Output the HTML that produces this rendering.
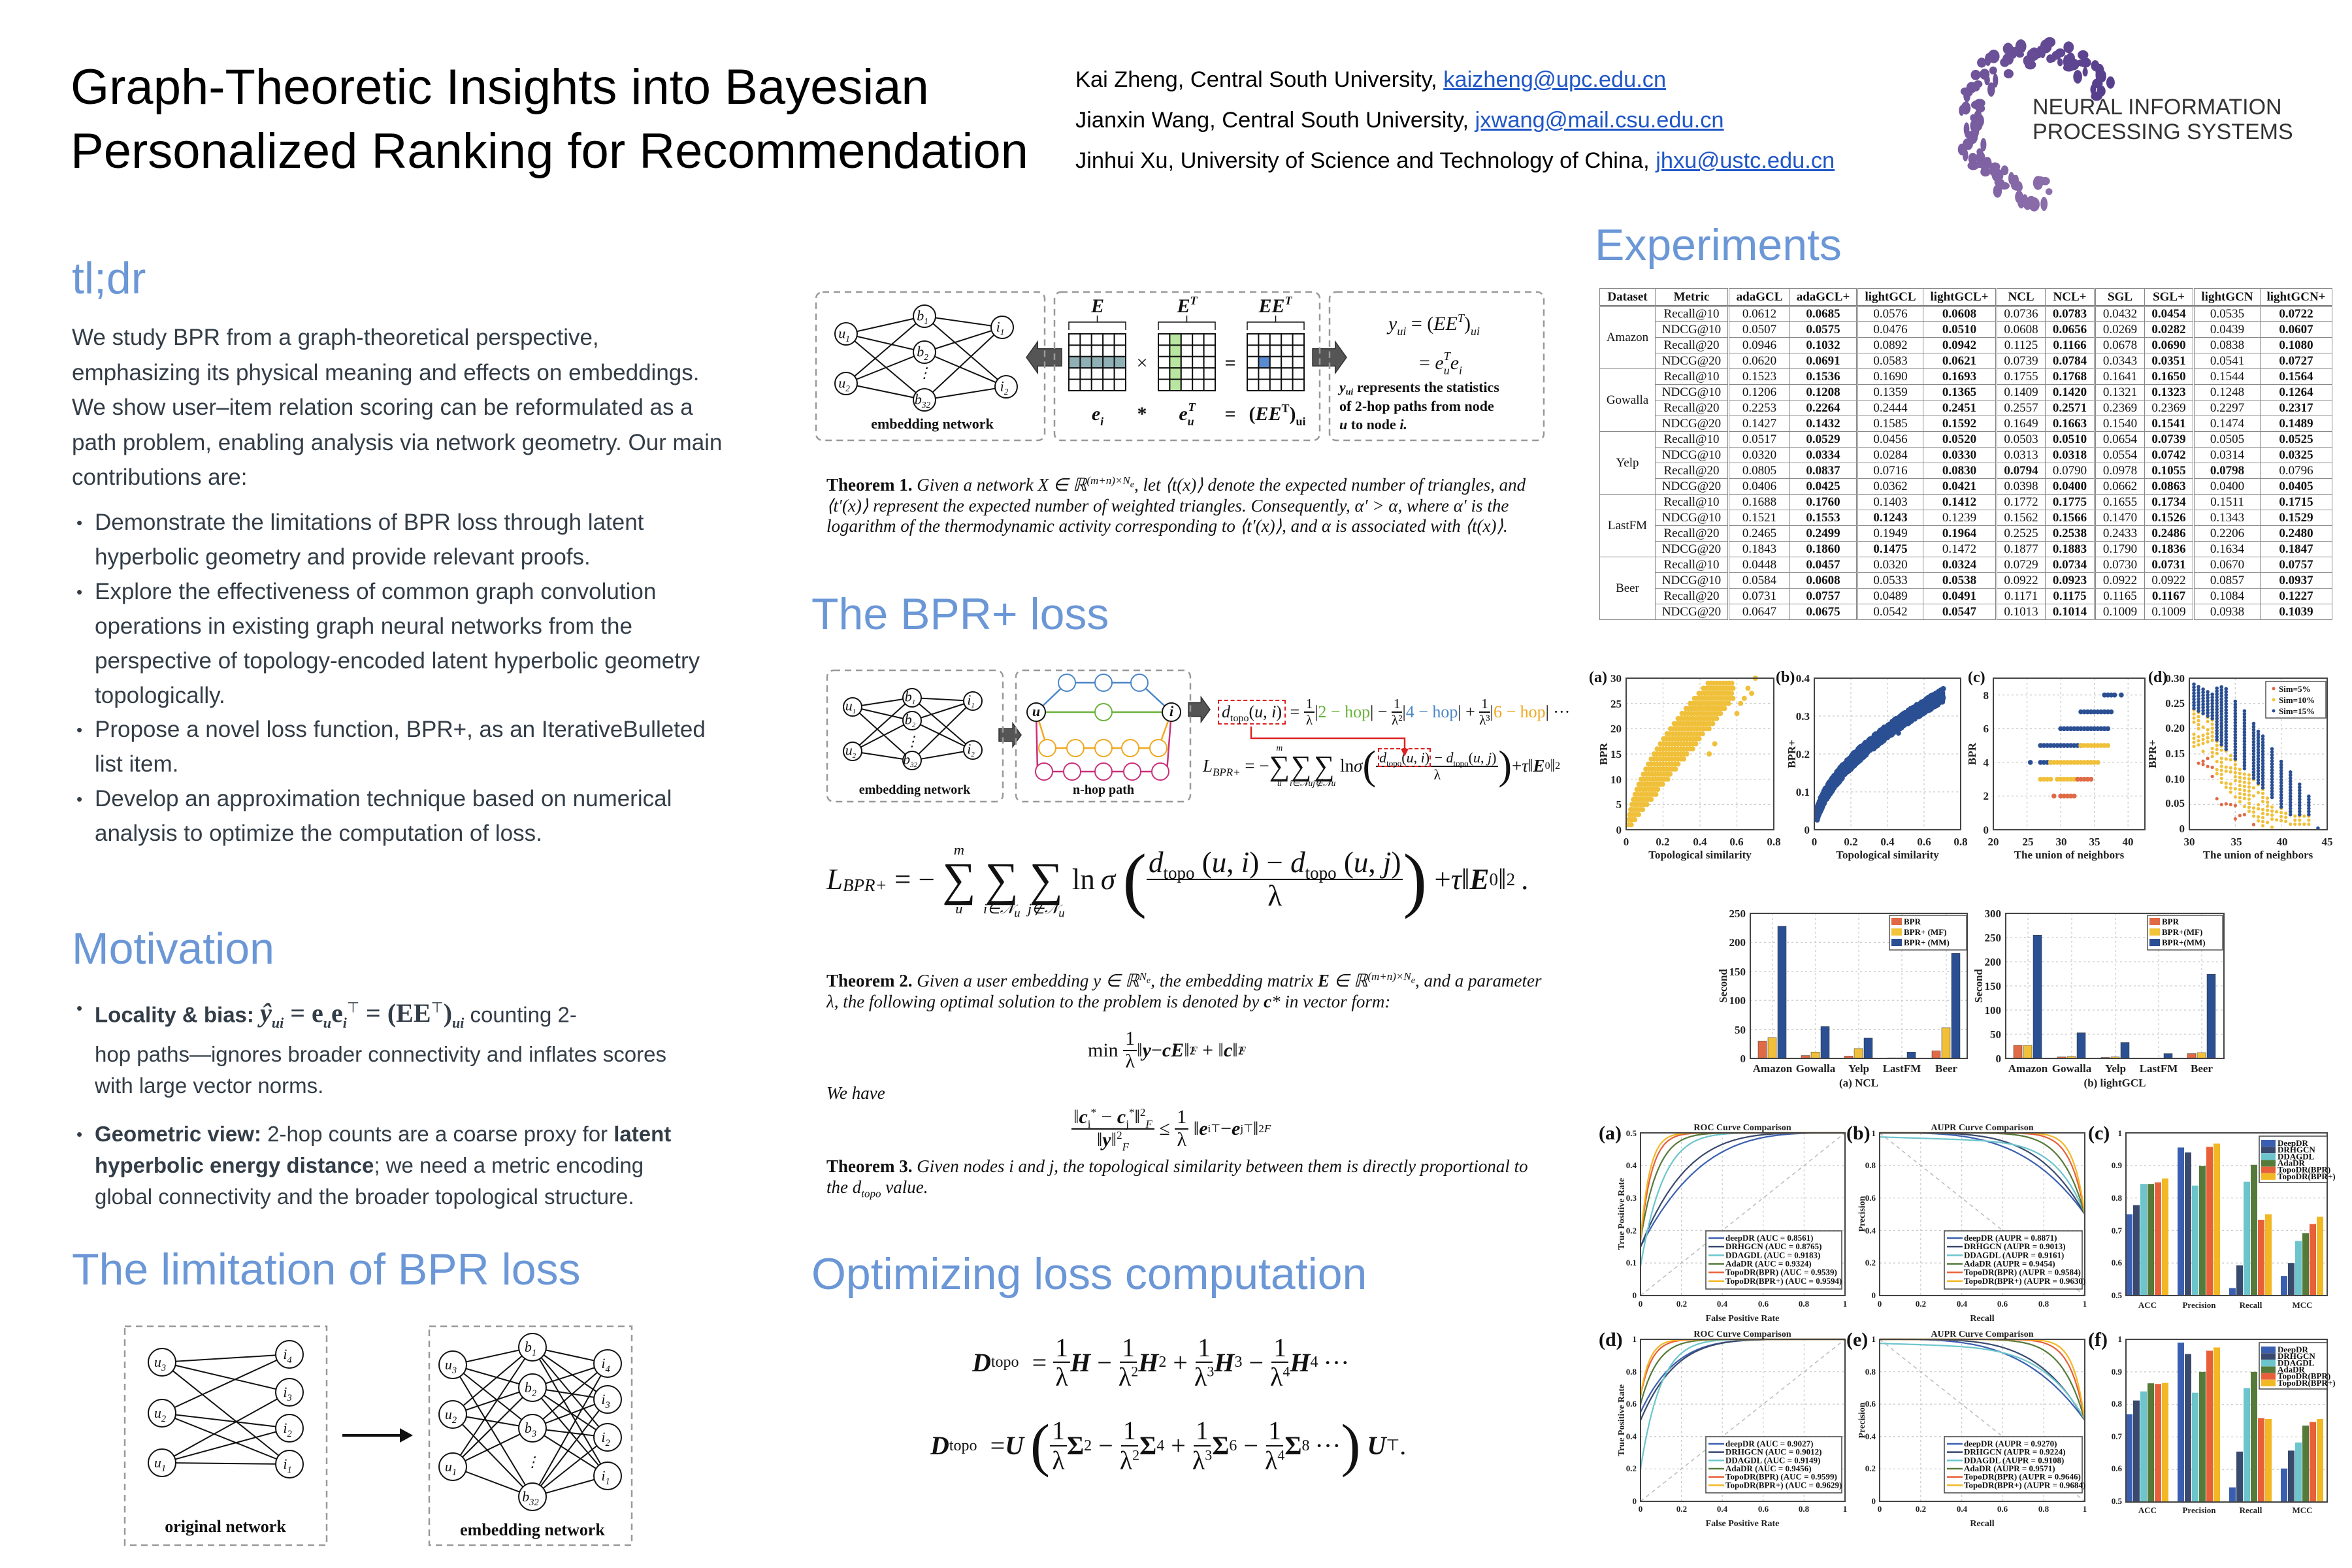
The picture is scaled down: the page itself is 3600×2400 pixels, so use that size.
<!DOCTYPE html>
<html><head><meta charset="utf-8">
<style>
*{margin:0;padding:0;box-sizing:border-box}
body{width:3600px;height:2400px;background:#fff;position:relative;overflow:hidden;font-family:"Liberation Sans",sans-serif;color:#333d47}
.a{position:absolute;white-space:nowrap}
.h{position:absolute;color:#6b97d6;font-size:68px;line-height:1;white-space:nowrap}
.tx{position:absolute;font-size:35px;line-height:53.6px;white-space:nowrap}
.bl{position:absolute;font-size:35px;line-height:52.9px;white-space:nowrap}
.bl div,.mo div{position:relative;padding-left:0}
.dot{position:absolute;left:-28px;top:0;font-size:26px}
.mo{position:absolute;font-size:33px;line-height:48px;white-space:nowrap}
.au{position:absolute;font-size:34.4px;color:#000;white-space:nowrap;line-height:1}
.au a{color:#1f56c6;text-decoration:underline}
.se{font-family:"Liberation Serif",serif}
.th{position:absolute;font-family:"Liberation Serif",serif;font-size:27px;line-height:31.5px;white-space:nowrap;color:#111}
.th i{font-style:italic}
.fr{display:inline-flex;flex-direction:column;align-items:center;vertical-align:middle;line-height:1.08}
.fr>span:first-child{border-bottom:2px solid #111;padding:0 3px}
.sm{display:inline-flex;flex-direction:column;align-items:center;vertical-align:middle;line-height:0.95}
.sm small{font-size:0.5em;font-style:italic}
.m{position:absolute;font-family:"Liberation Serif",serif;color:#111;white-space:nowrap;display:flex;align-items:center}
.m sup,.m sub{line-height:0}
table{border-collapse:collapse;font-family:"Liberation Serif",serif;font-size:19px;color:#111;table-layout:fixed}
td{border:1px solid #888;text-align:center;height:24px;padding:0;line-height:22px}
tr.hd td{height:27px;font-weight:bold;border-bottom:3px double #777}
td.d{border-left:3px double #888}
svg{position:absolute;left:0;top:0}
.t{font-family:"Liberation Serif",serif;font-weight:bold;font-size:17px;fill:#222}
.s{font-family:"Liberation Serif",serif;font-weight:bold;font-size:13px;fill:#111}
.n{font-family:"Liberation Serif",serif;font-style:italic;font-size:22px;fill:#111;text-anchor:middle}
</style></head><body>

<div class="a" style="left:108px;top:96px;font-size:76px;color:#000;line-height:1">Graph-Theoretic Insights into Bayesian</div>
<div class="a" style="left:108px;top:194px;font-size:76px;color:#000;line-height:1">Personalized Ranking for Recommendation</div>

<div class="au" style="left:1646px;top:105px">Kai Zheng, Central South University, <a>kaizheng@upc.edu.cn</a></div>
<div class="au" style="left:1646px;top:167px">Jianxin Wang, Central South University, <a>jxwang@mail.csu.edu.cn</a></div>
<div class="au" style="left:1646px;top:229px">Jinhui Xu, University of Science and Technology of China, <a>jhxu@ustc.edu.cn</a></div>
<div class="a" style="left:3111px;top:145px;font-size:34px;color:#333;line-height:38px">NEURAL INFORMATION<br>PROCESSING SYSTEMS</div>

<div class="h" style="left:110px;top:392px">tl;dr</div>
<div class="tx" style="left:110px;top:490px">We study BPR from a graph-theoretical perspective,<br>emphasizing its physical meaning and effects on embeddings.<br>We show user–item relation scoring can be reformulated as a<br>path problem, enabling analysis via network geometry. Our main<br>contributions are:</div>
<div class="bl" style="left:145px;top:774px">
<div><span class="dot">•</span>Demonstrate the limitations of BPR loss through latent</div><div>hyperbolic geometry and provide relevant proofs.</div>
<div><span class="dot">•</span>Explore the effectiveness of common graph convolution</div><div>operations in existing graph neural networks from the</div><div>perspective of topology-encoded latent hyperbolic geometry</div><div>topologically.</div>
<div><span class="dot">•</span>Propose a novel loss function, BPR+, as an IterativeBulleted</div><div>list item.</div>
<div><span class="dot">•</span>Develop an approximation technique based on numerical</div><div>analysis to optimize the computation of loss.</div>
</div>

<div class="h" style="left:110px;top:1418px">Motivation</div>
<div class="mo" style="left:145px;top:1519px">
<div><span class="dot">•</span><b>Locality &amp; bias:</b> <span class="se" style="font-size:40px;font-weight:bold"><i>ŷ<sub style="font-size:22px">ui</sub></i> = e<sub style="font-size:22px"><i>u</i></sub>e<sub style="font-size:22px"><i>i</i></sub><sup style="font-size:22px;font-weight:normal">⊤</sup> = (EE<sup style="font-size:22px;font-weight:normal">⊤</sup>)<sub style="font-size:22px"><i>ui</i></sub></span> counting 2-</div>
<div>hop paths—ignores broader connectivity and inflates scores</div><div>with large vector norms.</div>
</div>
<div class="mo" style="left:145px;top:1712px">
<div><span class="dot">•</span><b>Geometric view:</b> 2-hop counts are a coarse proxy for <b>latent</b></div>
<div><b>hyperbolic energy distance</b>; we need a metric encoding</div><div>global connectivity and the broader topological structure.</div>
</div>

<div class="h" style="left:110px;top:1909px">The limitation of BPR loss</div>
<div class="h" style="left:1242px;top:906px">The BPR+ loss</div>
<div class="h" style="left:1242px;top:1916px">Optimizing loss computation</div>
<div class="h" style="left:2441px;top:341px">Experiments</div>

<div class="th" style="left:1265px;top:720px;width:1075px;white-space:normal"><b>Theorem 1.</b> <i>Given a network X ∈ ℝ<sup style="font-size:17px">(m+n)×N<sub>e</sub></sup>, let ⟨t(x)⟩ denote the expected number of triangles, and ⟨t′(x)⟩ represent the expected number of weighted triangles. Consequently, α′ &gt; α, where α′ is the logarithm of the thermodynamic activity corresponding to ⟨t′(x)⟩, and α is associated with ⟨t(x)⟩.</i></div>

<div class="m" style="left:1265px;top:1276px;height:140px;font-size:45px">
<i>L</i><sub style="font-size:27px;font-style:italic;margin-top:18px">BPR+</sub>&nbsp;= −&nbsp;<span class="sm"><small>m</small><span style="font-size:72px">∑</span><small>u</small></span>&nbsp;<span class="sm"><small>&nbsp;</small><span style="font-size:72px">∑</span><small>i∈𝒩<sub>u</sub></small></span>&nbsp;<span class="sm"><small>&nbsp;</small><span style="font-size:72px">∑</span><small>j∉𝒩<sub>u</sub></small></span>&nbsp;ln&thinsp;<i>σ</i>&nbsp;<span style="font-size:110px;font-weight:lighter">(</span><span class="fr"><span><i>d</i><sub style="font-size:27px">topo</sub> (<i>u</i>, <i>i</i>) − <i>d</i><sub style="font-size:27px">topo</sub> (<i>u</i>, <i>j</i>)</span><span>λ</span></span><span style="font-size:110px;font-weight:lighter">)</span>&nbsp;+ <i>τ</i> ‖<b><i>E</i></b><sup style="font-size:27px">0</sup>‖<sup style="font-size:27px">2</sup>&thinsp;.
</div>

<div class="th" style="left:1265px;top:1479px;width:1110px;white-space:normal"><b>Theorem 2.</b> <i>Given a user embedding y ∈ ℝ<sup style="font-size:17px">N<sub>e</sub></sup>, the embedding matrix <b>E</b> ∈ ℝ<sup style="font-size:17px">(m+n)×N<sub>e</sub></sup>, and a parameter λ, the following optimal solution to the problem is denoted by <b>c</b>* in vector form:</i></div>
<div class="m" style="left:1665px;top:1570px;height:75px;font-size:30px">min&nbsp;<span class="fr"><span>1</span><span>λ</span></span>‖<b><i>y</i></b> − <b><i>cE</i></b>‖<sup style="font-size:18px">2</sup><sub style="font-size:18px;margin-left:-8px"><i>F</i></sub>&nbsp;+ ‖<b><i>c</i></b>‖<sup style="font-size:18px">2</sup><sub style="font-size:18px;margin-left:-8px"><i>F</i></sub></div>
<div class="th" style="left:1265px;top:1658px"><i>We have</i></div>
<div class="m" style="left:1640px;top:1685px;height:85px;font-size:30px"><span class="fr"><span>‖<b><i>c</i></b><sub style="font-size:17px">i</sub><sup style="font-size:17px">*</sup> − <b><i>c</i></b><sub style="font-size:17px">j</sub><sup style="font-size:17px">*</sup>‖<sup style="font-size:17px">2</sup><sub style="font-size:17px"><i>F</i></sub></span><span>‖<b><i>y</i></b>‖<sup style="font-size:17px">2</sup><sub style="font-size:17px"><i>F</i></sub></span></span>&nbsp;≤&nbsp;<span class="fr"><span>1</span><span>λ</span></span>&nbsp;‖<b><i>e</i></b><sub style="font-size:17px">i</sub><sup style="font-size:17px">⊤</sup> − <b><i>e</i></b><sub style="font-size:17px">j</sub><sup style="font-size:17px">⊤</sup>‖<sup style="font-size:17px">2</sup><sub style="font-size:17px"><i>F</i></sub></div>
<div class="th" style="left:1265px;top:1770px;width:1110px;white-space:normal"><b>Theorem 3.</b> <i>Given nodes i and j, the topological similarity between them is directly proportional to the d<sub style="font-size:17px">topo</sub> value.</i></div>

<div class="m" style="left:1488px;top:2040px;height:90px;font-size:40px"><b><i>D</i></b><sub style="font-size:24px">topo</sub>&nbsp; =&nbsp;<span class="fr"><span>1</span><span>λ</span></span><b><i>H</i></b>&nbsp;−&nbsp;<span class="fr"><span>1</span><span>λ<sup style="font-size:22px">2</sup></span></span><b><i>H</i></b><sup style="font-size:24px">2</sup>&nbsp;+&nbsp;<span class="fr"><span>1</span><span>λ<sup style="font-size:22px">3</sup></span></span><b><i>H</i></b><sup style="font-size:24px">3</sup>&nbsp;−&nbsp;<span class="fr"><span>1</span><span>λ<sup style="font-size:22px">4</sup></span></span><b><i>H</i></b><sup style="font-size:24px">4</sup>&thinsp;···</div>
<div class="m" style="left:1424px;top:2160px;height:105px;font-size:40px"><b><i>D</i></b><sub style="font-size:24px">topo</sub>&nbsp; = <b><i>U</i></b>&nbsp;<span style="font-size:90px;font-weight:lighter">(</span><span class="fr"><span>1</span><span>λ</span></span><b>Σ</b><sup style="font-size:24px">2</sup>&nbsp;−&nbsp;<span class="fr"><span>1</span><span>λ<sup style="font-size:22px">2</sup></span></span><b>Σ</b><sup style="font-size:24px">4</sup>&nbsp;+&nbsp;<span class="fr"><span>1</span><span>λ<sup style="font-size:22px">3</sup></span></span><b>Σ</b><sup style="font-size:24px">6</sup>&nbsp;−&nbsp;<span class="fr"><span>1</span><span>λ<sup style="font-size:22px">4</sup></span></span><b>Σ</b><sup style="font-size:24px">8</sup>&thinsp;···<span style="font-size:90px;font-weight:lighter">)</span>&nbsp;<b><i>U</i></b><sup style="font-size:24px">⊤</sup>.</div>

<div class="m" style="left:1864px;top:1058px;height:64px;font-size:26px"><span style="border:2px dashed #d22;padding:2px 4px"><i>d</i><sub style="font-size:16px">topo</sub>(<i>u</i>, <i>i</i>)</span>&nbsp;=&nbsp;<span class="fr" style="font-size:21px"><span>1</span><span>λ</span></span>|<span style="color:#6ab23a">2 − hop</span>| −&nbsp;<span class="fr" style="font-size:21px"><span>1</span><span>λ²</span></span>|<span style="color:#4a86c8">4 − hop</span>| +&nbsp;<span class="fr" style="font-size:21px"><span>1</span><span>λ³</span></span>|<span style="color:#f0a820">6 − hop</span>| ···</div>
<div class="m" style="left:1841px;top:1130px;height:85px;font-size:27px"><i>L<sub style="font-size:17px">BPR+</sub></i>&nbsp;= −<span class="sm"><small>m</small><span style="font-size:44px">∑</span><small>u</small></span><span class="sm"><small>&nbsp;</small><span style="font-size:44px">∑</span><small>i∈𝒩u</small></span><span class="sm"><small>&nbsp;</small><span style="font-size:44px">∑</span><small>j∉𝒩u</small></span>&nbsp;ln <i>σ</i><span style="font-size:62px;font-weight:lighter">(</span><span class="fr" style="font-size:22px"><span><span style="border:2px dashed #d22"><i>d</i><sub style="font-size:13px">topo</sub>(<i>u</i>, <i>i</i>)</span> − <i>d</i><sub style="font-size:13px">topo</sub>(<i>u</i>, <i>j</i>)</span><span>λ</span></span><span style="font-size:62px;font-weight:lighter">)</span>+ <i>τ</i> ‖<b><i>E</i></b><sup style="font-size:16px">0</sup>‖<sup style="font-size:16px">2</sup></div>

<table style="position:absolute;left:2448px;top:441px;width:1121px">
<colgroup><col style="width:85px"><col style="width:112px"><col style="width:94px"><col style="width:103px"><col style="width:101px"><col style="width:112px"><col style="width:75px"><col style="width:76px"><col style="width:76px"><col style="width:75px"><col style="width:102px"><col style="width:110px"></colgroup>
<tr class="hd"><td>Dataset</td><td>Metric</td><td class="d">adaGCL</td><td>adaGCL+</td><td class="d">lightGCL</td><td>lightGCL+</td><td class="d">NCL</td><td>NCL+</td><td class="d">SGL</td><td>SGL+</td><td class="d">lightGCN</td><td>lightGCN+</td></tr>
<tr><td rowspan="4">Amazon</td><td>Recall@10</td><td class="d">0.0612</td><td><b>0.0685</b></td><td class="d">0.0576</td><td><b>0.0608</b></td><td class="d">0.0736</td><td><b>0.0783</b></td><td class="d">0.0432</td><td><b>0.0454</b></td><td class="d">0.0535</td><td><b>0.0722</b></td></tr>
<tr><td>NDCG@10</td><td class="d">0.0507</td><td><b>0.0575</b></td><td class="d">0.0476</td><td><b>0.0510</b></td><td class="d">0.0608</td><td><b>0.0656</b></td><td class="d">0.0269</td><td><b>0.0282</b></td><td class="d">0.0439</td><td><b>0.0607</b></td></tr>
<tr><td>Recall@20</td><td class="d">0.0946</td><td><b>0.1032</b></td><td class="d">0.0892</td><td><b>0.0942</b></td><td class="d">0.1125</td><td><b>0.1166</b></td><td class="d">0.0678</td><td><b>0.0690</b></td><td class="d">0.0838</td><td><b>0.1080</b></td></tr>
<tr><td>NDCG@20</td><td class="d">0.0620</td><td><b>0.0691</b></td><td class="d">0.0583</td><td><b>0.0621</b></td><td class="d">0.0739</td><td><b>0.0784</b></td><td class="d">0.0343</td><td><b>0.0351</b></td><td class="d">0.0541</td><td><b>0.0727</b></td></tr>
<tr><td rowspan="4">Gowalla</td><td>Recall@10</td><td class="d">0.1523</td><td><b>0.1536</b></td><td class="d">0.1690</td><td><b>0.1693</b></td><td class="d">0.1755</td><td><b>0.1768</b></td><td class="d">0.1641</td><td><b>0.1650</b></td><td class="d">0.1544</td><td><b>0.1564</b></td></tr>
<tr><td>NDCG@10</td><td class="d">0.1206</td><td><b>0.1208</b></td><td class="d">0.1359</td><td><b>0.1365</b></td><td class="d">0.1409</td><td><b>0.1420</b></td><td class="d">0.1321</td><td><b>0.1323</b></td><td class="d">0.1248</td><td><b>0.1264</b></td></tr>
<tr><td>Recall@20</td><td class="d">0.2253</td><td><b>0.2264</b></td><td class="d">0.2444</td><td><b>0.2451</b></td><td class="d">0.2557</td><td><b>0.2571</b></td><td class="d">0.2369</td><td>0.2369</td><td class="d">0.2297</td><td><b>0.2317</b></td></tr>
<tr><td>NDCG@20</td><td class="d">0.1427</td><td><b>0.1432</b></td><td class="d">0.1585</td><td><b>0.1592</b></td><td class="d">0.1649</td><td><b>0.1663</b></td><td class="d">0.1540</td><td><b>0.1541</b></td><td class="d">0.1474</td><td><b>0.1489</b></td></tr>
<tr><td rowspan="4">Yelp</td><td>Recall@10</td><td class="d">0.0517</td><td><b>0.0529</b></td><td class="d">0.0456</td><td><b>0.0520</b></td><td class="d">0.0503</td><td><b>0.0510</b></td><td class="d">0.0654</td><td><b>0.0739</b></td><td class="d">0.0505</td><td><b>0.0525</b></td></tr>
<tr><td>NDCG@10</td><td class="d">0.0320</td><td><b>0.0334</b></td><td class="d">0.0284</td><td><b>0.0330</b></td><td class="d">0.0313</td><td><b>0.0318</b></td><td class="d">0.0554</td><td><b>0.0742</b></td><td class="d">0.0314</td><td><b>0.0325</b></td></tr>
<tr><td>Recall@20</td><td class="d">0.0805</td><td><b>0.0837</b></td><td class="d">0.0716</td><td><b>0.0830</b></td><td class="d"><b>0.0794</b></td><td>0.0790</td><td class="d">0.0978</td><td><b>0.1055</b></td><td class="d"><b>0.0798</b></td><td>0.0796</td></tr>
<tr><td>NDCG@20</td><td class="d">0.0406</td><td><b>0.0425</b></td><td class="d">0.0362</td><td><b>0.0421</b></td><td class="d">0.0398</td><td><b>0.0400</b></td><td class="d">0.0662</td><td><b>0.0863</b></td><td class="d">0.0400</td><td><b>0.0405</b></td></tr>
<tr><td rowspan="4">LastFM</td><td>Recall@10</td><td class="d">0.1688</td><td><b>0.1760</b></td><td class="d">0.1403</td><td><b>0.1412</b></td><td class="d">0.1772</td><td><b>0.1775</b></td><td class="d">0.1655</td><td><b>0.1734</b></td><td class="d">0.1511</td><td><b>0.1715</b></td></tr>
<tr><td>NDCG@10</td><td class="d">0.1521</td><td><b>0.1553</b></td><td class="d"><b>0.1243</b></td><td>0.1239</td><td class="d">0.1562</td><td><b>0.1566</b></td><td class="d">0.1470</td><td><b>0.1526</b></td><td class="d">0.1343</td><td><b>0.1529</b></td></tr>
<tr><td>Recall@20</td><td class="d">0.2465</td><td><b>0.2499</b></td><td class="d">0.1949</td><td><b>0.1964</b></td><td class="d">0.2525</td><td><b>0.2538</b></td><td class="d">0.2433</td><td><b>0.2486</b></td><td class="d">0.2206</td><td><b>0.2480</b></td></tr>
<tr><td>NDCG@20</td><td class="d">0.1843</td><td><b>0.1860</b></td><td class="d"><b>0.1475</b></td><td>0.1472</td><td class="d">0.1877</td><td><b>0.1883</b></td><td class="d">0.1790</td><td><b>0.1836</b></td><td class="d">0.1634</td><td><b>0.1847</b></td></tr>
<tr><td rowspan="4">Beer</td><td>Recall@10</td><td class="d">0.0448</td><td><b>0.0457</b></td><td class="d">0.0320</td><td><b>0.0324</b></td><td class="d">0.0729</td><td><b>0.0734</b></td><td class="d">0.0730</td><td><b>0.0731</b></td><td class="d">0.0670</td><td><b>0.0757</b></td></tr>
<tr><td>NDCG@10</td><td class="d">0.0584</td><td><b>0.0608</b></td><td class="d">0.0533</td><td><b>0.0538</b></td><td class="d">0.0922</td><td><b>0.0923</b></td><td class="d">0.0922</td><td>0.0922</td><td class="d">0.0857</td><td><b>0.0937</b></td></tr>
<tr><td>Recall@20</td><td class="d">0.0731</td><td><b>0.0757</b></td><td class="d">0.0489</td><td><b>0.0491</b></td><td class="d">0.1171</td><td><b>0.1175</b></td><td class="d">0.1165</td><td><b>0.1167</b></td><td class="d">0.1084</td><td><b>0.1227</b></td></tr>
<tr><td>NDCG@20</td><td class="d">0.0647</td><td><b>0.0675</b></td><td class="d">0.0542</td><td><b>0.0547</b></td><td class="d">0.1013</td><td><b>0.1014</b></td><td class="d">0.1009</td><td>0.1009</td><td class="d">0.0938</td><td><b>0.1039</b></td></tr>
</table>

<svg id="gfx" width="3600" height="2400" xmlns="http://www.w3.org/2000/svg"></svg>

<svg id="txt" width="3600" height="2400" xmlns="http://www.w3.org/2000/svg">
<g fill="none" stroke="#999" stroke-width="2.5" stroke-dasharray="10 7">
<rect x="1249" y="447" width="350" height="227" rx="10"/>
<rect x="1614" y="447" width="406" height="227" rx="10"/>
<rect x="2035" y="447" width="328" height="227" rx="10"/>
<rect x="1266" y="1026" width="269" height="201" rx="10"/>
<rect x="1555" y="1026" width="267" height="201" rx="10"/>
<rect x="191" y="2030" width="309" height="335"/>
<rect x="657" y="2030" width="310" height="335"/>
</g>
<g font-family="Liberation Serif" font-weight="bold" font-style="italic" font-size="30" text-anchor="middle" fill="#111">
<text x="1680" y="478">E</text><text x="1817" y="478">E<tspan font-size="18" dy="-12">T</tspan></text><text x="1952" y="478">EE<tspan font-size="18" dy="-12">T</tspan></text>
<text x="1680" y="643">e<tspan font-size="18" dy="8">i</tspan></text><text x="1748" y="643" font-style="normal">*</text><text x="1817" y="643">e<tspan font-size="18" dy="8">u</tspan><tspan font-size="18" dx="-9" dy="-22">T</tspan></text><text x="1883" y="643" font-style="normal">=</text><text x="1955" y="643" font-style="normal">(<tspan font-style="italic">EE</tspan><tspan font-size="18" dy="-12">T</tspan><tspan dy="12">)</tspan><tspan font-size="18" dy="8">ui</tspan></text>
<text x="1748" y="565" font-style="normal" font-weight="normal">×</text><text x="1883" y="565" font-style="normal">=</text>
<text x="2195" y="505" font-weight="normal">y<tspan font-size="18" dy="8">ui</tspan><tspan dy="-8" font-style="normal"> = (</tspan>EE<tspan font-size="18" dy="-12">T</tspan><tspan dy="12" font-style="normal">)</tspan><tspan font-size="18" dy="8">ui</tspan></text>
<text x="2205" y="565" font-weight="normal"><tspan font-style="normal">= </tspan>e<tspan font-size="18" dy="8">u</tspan><tspan font-size="18" dx="-9" dy="-22">T</tspan><tspan dy="14">e</tspan><tspan font-size="18" dy="8">i</tspan></text>
</g>
<g font-family="Liberation Serif" font-weight="bold" font-size="22" fill="#111">
<text x="2050" y="600"><tspan font-style="italic">y<tspan font-size="14" dy="4">ui</tspan></tspan><tspan dy="-4"> represents the statistics</tspan></text>
<text x="2050" y="629">of 2-hop paths from node</text>
<text x="2050" y="657"><tspan font-style="italic">u</tspan> to node <tspan font-style="italic">i.</tspan></text>
<text x="1427" y="656" text-anchor="middle">embedding network</text>
<text x="1400" y="1215" text-anchor="middle" font-size="20">embedding network</text>
<text x="1689" y="1215" text-anchor="middle" font-size="20">n-hop path</text>
<text x="345" y="2345" text-anchor="middle" font-size="26">original network</text>
<text x="815" y="2350" text-anchor="middle" font-size="26">embedding network</text>
</g>

<g class="t" text-anchor="middle">
<text class="t" x="2489" y="1294">0</text><text class="t" x="2545" y="1294">0.2</text><text class="t" x="2602" y="1294">0.4</text><text class="t" x="2658" y="1294">0.6</text><text class="t" x="2715" y="1294">0.8</text>
<text class="t" x="2777" y="1294">0</text><text class="t" x="2833" y="1294">0.2</text><text class="t" x="2889" y="1294">0.4</text><text class="t" x="2945" y="1294">0.6</text><text class="t" x="3001" y="1294">0.8</text>
<text class="t" x="3051" y="1294">20</text><text class="t" x="3104" y="1294">25</text><text class="t" x="3155" y="1294">30</text><text class="t" x="3206" y="1294">35</text><text class="t" x="3257" y="1294">40</text>
<text class="t" x="3351" y="1294">30</text><text class="t" x="3423" y="1294">35</text><text class="t" x="3493" y="1294">40</text><text class="t" x="3562" y="1294">45</text>
<text class="t" x="2602" y="1314">Topological similarity</text><text class="t" x="2889" y="1314">Topological similarity</text>
<text class="t" x="3167" y="1314">The union of neighbors</text><text class="t" x="3456" y="1314">The union of neighbors</text>
</g>
<g text-anchor="end">
<text class="t" x="2482" y="1276" text-anchor="end">0</text><text class="t" x="2482" y="1237" text-anchor="end">5</text><text class="t" x="2482" y="1199" text-anchor="end">10</text><text class="t" x="2482" y="1160" text-anchor="end">15</text><text class="t" x="2482" y="1121" text-anchor="end">20</text><text class="t" x="2482" y="1083" text-anchor="end">25</text><text class="t" x="2482" y="1044" text-anchor="end">30</text>
<text class="t" x="2770" y="1276" text-anchor="end">0</text><text class="t" x="2770" y="1218" text-anchor="end">0.1</text><text class="t" x="2770" y="1160" text-anchor="end">0.2</text><text class="t" x="2770" y="1102" text-anchor="end">0.3</text><text class="t" x="2770" y="1044" text-anchor="end">0.4</text>
<text class="t" x="3044" y="1276" text-anchor="end">0</text><text class="t" x="3044" y="1224" text-anchor="end">2</text><text class="t" x="3044" y="1173" text-anchor="end">4</text><text class="t" x="3044" y="1121" text-anchor="end">6</text><text class="t" x="3044" y="1070" text-anchor="end">8</text>
<text class="t" x="3344" y="1274" text-anchor="end">0</text><text class="t" x="3344" y="1235" text-anchor="end">0.05</text><text class="t" x="3344" y="1198" text-anchor="end">0.10</text><text class="t" x="3344" y="1159" text-anchor="end">0.15</text><text class="t" x="3344" y="1120" text-anchor="end">0.20</text><text class="t" x="3344" y="1082" text-anchor="end">0.25</text><text class="t" x="3344" y="1044" text-anchor="end">0.30</text>
</g>
<text class="t" transform="translate(2460,1154) rotate(-90)" text-anchor="middle">BPR</text>
<text class="t" transform="translate(2748,1154) rotate(-90)" text-anchor="middle">BPR+</text>
<text class="t" transform="translate(3024,1154) rotate(-90)" text-anchor="middle">BPR</text>
<text class="t" transform="translate(3300,1154) rotate(-90)" text-anchor="middle">BPR+</text>
<g font-family="Liberation Serif" font-weight="bold" font-size="24" fill="#111">
<text x="2432" y="1044">(a)</text><text x="2718" y="1044">(b)</text><text x="3012" y="1044">(c)</text><text x="3288" y="1044">(d)</text>
</g>
<rect x="3468" y="1043" width="92" height="56" fill="#fff" stroke="#555" stroke-width="1.5"/>
<circle cx="3480" cy="1054" r="2.5" fill="#e06a45"/><circle cx="3480" cy="1071" r="2.5" fill="#f2c43a"/><circle cx="3480" cy="1088" r="2.5" fill="#2b4f93"/>
<text class="s" x="3488" y="1059">Sim=5%</text><text class="s" x="3488" y="1076">Sim=10%</text><text class="s" x="3488" y="1093">Sim=15%</text>

<g text-anchor="end">
<text class="t" x="2672" y="1626" text-anchor="end">0</text><text class="t" x="2672" y="1582" text-anchor="end">50</text><text class="t" x="2672" y="1537" text-anchor="end">100</text><text class="t" x="2672" y="1493" text-anchor="end">150</text><text class="t" x="2672" y="1448" text-anchor="end">200</text><text class="t" x="2672" y="1404" text-anchor="end">250</text>
<text class="t" x="3063" y="1626" text-anchor="end">0</text><text class="t" x="3063" y="1589" text-anchor="end">50</text><text class="t" x="3063" y="1552" text-anchor="end">100</text><text class="t" x="3063" y="1515" text-anchor="end">150</text><text class="t" x="3063" y="1478" text-anchor="end">200</text><text class="t" x="3063" y="1441" text-anchor="end">250</text><text class="t" x="3063" y="1404" text-anchor="end">300</text>
</g>
<g text-anchor="middle">
<text class="t" x="2713" y="1641" text-anchor="middle">Amazon</text><text class="t" x="2779" y="1641" text-anchor="middle">Gowalla</text><text class="t" x="2845" y="1641" text-anchor="middle">Yelp</text><text class="t" x="2911" y="1641" text-anchor="middle">LastFM</text><text class="t" x="2979" y="1641" text-anchor="middle">Beer</text>
<text class="t" x="3104" y="1641" text-anchor="middle">Amazon</text><text class="t" x="3171" y="1641" text-anchor="middle">Gowalla</text><text class="t" x="3238" y="1641" text-anchor="middle">Yelp</text><text class="t" x="3304" y="1641" text-anchor="middle">LastFM</text><text class="t" x="3370" y="1641" text-anchor="middle">Beer</text>
<text class="t" x="2845" y="1663" text-anchor="middle">(a) NCL</text><text class="t" x="3237" y="1663" text-anchor="middle">(b) lightGCL</text>
</g>
<text class="t" transform="translate(2643,1509) rotate(-90)" text-anchor="middle">Second</text>
<text class="t" transform="translate(3034,1509) rotate(-90)" text-anchor="middle">Second</text>
<rect x="2892" y="1401" width="118" height="53" fill="#fff" stroke="#555" stroke-width="1.5"/>
<rect x="2895" y="1405" width="16" height="11" fill="#e06a45"/><rect x="2895" y="1421" width="16" height="11" fill="#f2c43a"/><rect x="2895" y="1437" width="16" height="11" fill="#2b4f93"/>
<text class="s" x="2914" y="1415">BPR</text><text class="s" x="2914" y="1431">BPR+ (MF)</text><text class="s" x="2914" y="1447">BPR+ (MM)</text>
<rect x="3287" y="1401" width="115" height="53" fill="#fff" stroke="#555" stroke-width="1.5"/>
<rect x="3290" y="1405" width="16" height="11" fill="#e06a45"/><rect x="3290" y="1421" width="16" height="11" fill="#f2c43a"/><rect x="3290" y="1437" width="16" height="11" fill="#2b4f93"/>
<text class="s" x="3309" y="1415">BPR</text><text class="s" x="3309" y="1431">BPR+(MF)</text><text class="s" x="3309" y="1447">BPR+(MM)</text>

<g font-family="Liberation Serif" font-weight="bold" font-size="14" fill="#222" text-anchor="middle">
<text x="2667" y="1730">ROC Curve Comparison</text><text x="3034" y="1730">AUPR Curve Comparison</text>
<text x="2667" y="2046">ROC Curve Comparison</text><text x="3034" y="2046">AUPR Curve Comparison</text>
<text x="2667" y="2022">False Positive Rate</text><text x="3034" y="2022">Recall</text>
<text x="2667" y="2336">False Positive Rate</text><text x="3034" y="2336">Recall</text>
<g font-size="13">
<text x="2511" y="2000">0</text><text x="2574" y="2000">0.2</text><text x="2636" y="2000">0.4</text><text x="2699" y="2000">0.6</text><text x="2761" y="2000">0.8</text><text x="2824" y="2000">1</text>
<text x="2877" y="2000">0</text><text x="2940" y="2000">0.2</text><text x="3003" y="2000">0.4</text><text x="3065" y="2000">0.6</text><text x="3128" y="2000">0.8</text><text x="3191" y="2000">1</text>
<text x="2511" y="2314">0</text><text x="2574" y="2314">0.2</text><text x="2636" y="2314">0.4</text><text x="2699" y="2314">0.6</text><text x="2761" y="2314">0.8</text><text x="2824" y="2314">1</text>
<text x="2877" y="2314">0</text><text x="2940" y="2314">0.2</text><text x="3003" y="2314">0.4</text><text x="3065" y="2314">0.6</text><text x="3128" y="2314">0.8</text><text x="3191" y="2314">1</text>
<text x="3287" y="2002">ACC</text><text x="3366" y="2002">Precision</text><text x="3445" y="2002">Recall</text><text x="3524" y="2002">MCC</text>
<text x="3287" y="2316">ACC</text><text x="3366" y="2316">Precision</text><text x="3445" y="2316">Recall</text><text x="3524" y="2316">MCC</text>
</g>
<g font-size="13" text-anchor="end">
<text x="2505" y="1987">0</text><text x="2505" y="1937">0.1</text><text x="2505" y="1888">0.2</text><text x="2505" y="1838">0.3</text><text x="2505" y="1788">0.4</text><text x="2505" y="1739">0.5</text>
<text x="2871" y="1987">0</text><text x="2871" y="1937">0.2</text><text x="2871" y="1888">0.4</text><text x="2871" y="1838">0.6</text><text x="2871" y="1788">0.8</text><text x="2871" y="1739">1</text>
<text x="3248" y="1987">0.5</text><text x="3248" y="1937">0.6</text><text x="3248" y="1888">0.7</text><text x="3248" y="1838">0.8</text><text x="3248" y="1788">0.9</text><text x="3248" y="1739">1</text>
<text x="2505" y="2302">0</text><text x="2505" y="2252">0.2</text><text x="2505" y="2203">0.4</text><text x="2505" y="2153">0.6</text><text x="2505" y="2104">0.8</text><text x="2505" y="2054">1</text>
<text x="2871" y="2302">0</text><text x="2871" y="2252">0.2</text><text x="2871" y="2203">0.4</text><text x="2871" y="2153">0.6</text><text x="2871" y="2104">0.8</text><text x="2871" y="2054">1</text>
<text x="3248" y="2302">0.5</text><text x="3248" y="2252">0.6</text><text x="3248" y="2203">0.7</text><text x="3248" y="2153">0.8</text><text x="3248" y="2104">0.9</text><text x="3248" y="2054">1</text>
</g>
</g>
<g font-family="Liberation Serif" font-weight="bold" font-size="14" fill="#222" text-anchor="middle">
<text transform="translate(2486,1858) rotate(-90)">True Positive Rate</text><text transform="translate(2854,1858) rotate(-90)">Precision</text>
<text transform="translate(2486,2174) rotate(-90)">True Positive Rate</text><text transform="translate(2854,2174) rotate(-90)">Precision</text>
</g>
<g font-family="Liberation Serif" font-weight="bold" font-size="30" fill="#111">
<text x="2447" y="1744">(a)</text><text x="2826" y="1744">(b)</text><text x="3196" y="1744">(c)</text>
<text x="2447" y="2060">(d)</text><text x="2826" y="2060">(e)</text><text x="3196" y="2060">(f)</text>
</g>
<g id="legs"></g>
</svg>

<script>
const NS='http://www.w3.org/2000/svg';
const G=document.getElementById('gfx'), T=document.getElementById('legs');
function E(t,a,p){const e=document.createElementNS(NS,t);for(const k in a)e.setAttribute(k,a[k]);(p||G).appendChild(e);return e;}
function ax(x,y,w,h,x0,x1,y0,y1){return {X:v=>x+(v-x0)/(x1-x0)*w,Y:v=>y+h-(v-y0)/(y1-y0)*h};}
let seed=7;function rnd(){seed=(seed*16807)%2147483647;return seed/2147483647;}
function grid(x,y,w,h,gx,gy){gx.forEach(p=>E('line',{x1:p,x2:p,y1:y,y2:y+h,stroke:'#ccc','stroke-width':1.3,'stroke-dasharray':'3 4'}));gy.forEach(p=>E('line',{x1:x,x2:x+w,y1:p,y2:p,stroke:'#ccc','stroke-width':1.3,'stroke-dasharray':'3 4'}));}
function frame(x,y,w,h){E('rect',{x:x,y:y,width:w,height:h,fill:'none',stroke:'#444','stroke-width':2});}
function dot(x,y,r,c){E('circle',{cx:x,cy:y,r:r,fill:c});}
const Y='#f0c03a',B='#2b4f93',O='#e06a45';

let A=ax(2489,1038,226,232,0,0.8,0,30);
grid(2489,1038,226,232,[0.2,0.4,0.6].map(A.X),[5,10,15,20,25].map(A.Y));
for(let k=1;k<=29;k++){let l=0.46*Math.pow(k/30,1.7)+0.01,r=Math.min(0.6,0.022*k+0.01);if(k>=27)r=0.58;if(r<l)r=l;for(let x=l;x<=r+1e-9;x+=0.016)dot(A.X(x),A.Y(k),4,Y);}
[[0.7,30],[0.66,28],[0.68,27],[0.62,25],[0.48,17],[0.45,15],[0.64,26],[0.6,23]].forEach(p=>dot(A.X(p[0]),A.Y(p[1]),4,Y));
frame(2489,1038,226,232);
A=ax(2777,1038,224,232,0,0.8,0,0.4);
grid(2777,1038,224,232,[0.2,0.4,0.6].map(A.X),[0.1,0.2,0.3].map(A.Y));
for(let i=0;i<1500;i++){let x=0.015+Math.pow(rnd(),1.4)*0.69;let y=0.43*Math.pow(x,0.55)+(rnd()-0.5)*0.035;dot(A.X(x),A.Y(y),4.2,B);}
dot(A.X(0.46),A.Y(0.255),4,B);
frame(2777,1038,224,232);
A=ax(3051,1038,232,232,20,42.5,0,9);
grid(3051,1038,232,232,[25,30,35,40].map(A.X),[2,4,6,8].map(A.Y));
[[2,29,29,O],[2,30,32,O],[3,27,28.5,Y],[3,29.5,32.5,Y],[3,32.5,34.5,O],[4,25.5,25.5,B],[4,27,28.5,B],[4,28.5,35.5,Y],[5,27,33,B],[5,33,37,Y],[6,30,37,B],[7,33,37.5,B],[8,36.5,38,B],[8,39,39,B]].forEach(r=>{for(let x=r[1];x<=r[2]+1e-9;x+=0.5)dot(A.X(x),A.Y(r[0]),3.8,r[3]);});
frame(3051,1038,232,232);
A=ax(3351,1038,211,232,30,45,0,0.30);
grid(3351,1038,211,232,[35,40].map(A.X),[0.05,0.1,0.15,0.2,0.25].map(A.Y));
for(let x=30.5;x<=43;x+=0.5){let top=Math.min(0.285,0.26-0.024*(x-35)),bot=Math.max(0.03,0.14-0.019*(x-35));
 if(x<33){top=0.285-0.01*(x-31);bot=top-0.05;}
 for(let y=bot-0.075;y<bot;y+=0.008)if(y>0.005&&rnd()<0.7)dot(A.X(x),A.Y(y),2.6,Y);
 for(let i=0;i<3;i++)if(rnd()<0.5){let y=bot-0.08-rnd()*0.04;if(y>0.01)dot(A.X(x),A.Y(y),2.6,O);}
 if(Math.round(x*2)%2===0||rnd()<0.5)for(let y=bot;y<=top;y+=0.006)dot(A.X(x),A.Y(y),2.8,B);}
dot(A.X(44),A.Y(0.003),2.8,B);
frame(3351,1038,211,232);

function bars(x,w,ymax,centers,vals){A=ax(x,1398,w,222,0,1,0,ymax);
 grid(x,1398,w,222,centers,[1,2,3,4,5].map(i=>A.Y(i*50)).filter(v=>v>1398));
 centers.forEach((c,i)=>{[O,Y,B].forEach((col,j)=>{let v=vals[i][j];E('rect',{x:c-22+j*15,y:A.Y(v),width:13,height:1620-A.Y(v),fill:col,stroke:'#333','stroke-width':0.5});});});
 frame(x,1398,w,222);}
bars(2679,332,250,[2713,2779,2845,2911,2979],[[30,36,228],[5,11,55],[4,17,35],[1,1,11],[13,53,181]]);
bars(3070,334,300,[3104,3171,3238,3304,3370],[[27,27,255],[3,4,53],[2,3,33],[0.4,0.4,10],[10,12,174]]);

const C=['#3b5fb0','#3a4a6e','#6cc5cc','#557a3a','#e8603a','#f2b824'];
function curvePanel(x,y,w,h,fns,diag,ymax){const P=ax(x,y,w,h,0,1,0,1);
 grid(x,y,w,h,[0.2,0.4,0.6,0.8].map(P.X),[0.2,0.4,0.6,0.8].map(P.Y));
 E('line',{x1:P.X(0),y1:P.Y(diag?0:1),x2:P.X(1),y2:P.Y(diag?1:0),stroke:'#bbb','stroke-width':1.5,'stroke-dasharray':'6 5'});
 fns.forEach((f,i)=>{let s='';for(let k=0;k<=200;k++){let t=k/200;t=Math.pow(t,1.6);let yv=f(t)/ymax;s+=(k?'L':'M')+P.X(t).toFixed(1)+','+P.Y(Math.min(1,yv)).toFixed(1);}E('path',{d:s,fill:'none',stroke:C[i],'stroke-width':2.2});});
 frame(x,y,w,h);}
function roc(s,k){return x=>s+(1-s)*(1-Math.pow(1-x,k));}
function pr(a,n,c){return x=>(c||1)-(c?0.04*x:0)-a*Math.pow(x,n);}
const rocA=[roc(0.3,3.5),roc(0.3,4.5),roc(0.18,9),roc(0.34,12),roc(0.34,18),roc(0.34,22)].map(f=>x=>0.5*f(x));
curvePanel(2511,1734,313,249,rocA,true,0.5);
curvePanel(2877,1734,314,249,[pr(0.5,3.5),pr(0.5,4.5),pr(0.43,7,0.975),pr(0.5,9),pr(0.5,14),pr(0.5,18)],false,1);
curvePanel(2511,2050,313,248,[roc(0.55,6),roc(0.5,6),roc(0.2,10),roc(0.6,12),roc(0.65,18),roc(0.65,22)],true,1);
curvePanel(2877,2050,314,248,[pr(0.5,3.5),pr(0.5,4.5),pr(0.43,5,0.975),pr(0.5,9),pr(0.5,14),pr(0.5,18)],false,1);
function gbar(y,vals){const P=ax(3254,y,308,249,0,1,0.5,1);
 grid(3254,y,308,249,[],[0.6,0.7,0.8,0.9].map(P.Y));
 [3287,3366,3445,3524].forEach((c,i)=>{vals[i].forEach((v,j)=>{E('rect',{x:c-33+j*11,y:P.Y(v),width:10,height:P.Y(0.5)-P.Y(v),fill:C[j]});});});
 frame(3254,y,308,249);}
gbar(1734,[[.75,.778,.843,.843,.848,.86],[.955,.94,.838,.898,.957,.967],[.523,.593,.85,.902,.733,.75],[.56,.6,.668,.692,.72,.742]]);
gbar(2050,[[.77,.812,.84,.865,.863,.866],[.99,.955,.836,.9,.965,.975],[.545,.655,.85,.9,.758,.755],[.603,.658,.683,.735,.746,.755]]);

function legBox(x,y,w,h,n,bar){E('rect',{x:x,y:y,width:w,height:h,fill:'#fff',stroke:'#444','stroke-width':1.5},T);for(let i=0;i<n;i++){let yy=y+8+i*(h-10)/n+3;if(bar)E('rect',{x:x+3,y:yy-5,width:22,height:10,fill:C[i]},T);else E('line',{x1:x+4,x2:x+28,y1:yy,y2:yy,stroke:C[i],'stroke-width':2.5},T);}}
legBox(2611,1884,208,89,6);legBox(2976,1884,211,89,6);legBox(2611,2199,208,86,6);legBox(2976,2199,211,86,6);
legBox(3458,1739,104,71,6,true);legBox(3458,2055,104,71,6,true);
const LT=[[2641,1884,89,['deepDR (AUC = 0.8561)','DRHGCN (AUC = 0.8765)','DDAGDL (AUC = 0.9183)','AdaDR (AUC = 0.9324)','TopoDR(BPR) (AUC = 0.9539)','TopoDR(BPR+) (AUC = 0.9594)']],
[3006,1884,89,['deepDR (AUPR = 0.8871)','DRHGCN (AUPR = 0.9013)','DDAGDL (AUPR = 0.9161)','AdaDR (AUPR = 0.9454)','TopoDR(BPR) (AUPR = 0.9584)','TopoDR(BPR+) (AUPR = 0.9630)']],
[2641,2199,86,['deepDR (AUC = 0.9027)','DRHGCN (AUC = 0.9012)','DDAGDL (AUC = 0.9149)','AdaDR (AUC = 0.9456)','TopoDR(BPR) (AUC = 0.9599)','TopoDR(BPR+) (AUC = 0.9629)']],
[3006,2199,86,['deepDR (AUPR = 0.9270)','DRHGCN (AUPR = 0.9224)','DDAGDL (AUPR = 0.9108)','AdaDR (AUPR = 0.9571)','TopoDR(BPR) (AUPR = 0.9646)','TopoDR(BPR+) (AUPR = 0.9684)']],
[3486,1739,71,['DeepDR','DRHGCN','DDAGDL','AdaDR','TopoDR(BPR)','TopoDR(BPR+)']],
[3486,2055,71,['DeepDR','DRHGCN','DDAGDL','AdaDR','TopoDR(BPR)','TopoDR(BPR+)']]];
LT.forEach(l=>l[3].forEach((s,i)=>{const e=E('text',{x:l[0],y:l[1]+8+i*(l[2]-10)/6+7,'class':'s','font-size':l[0]>3400?10:12},T);e.textContent=s;}));

function net(nodes,edges,r,fs){edges.forEach(e=>E('line',{x1:nodes[e[0]][0],y1:nodes[e[0]][1],x2:nodes[e[1]][0],y2:nodes[e[1]][1],stroke:'#111','stroke-width':2}));
 for(const k in nodes){const n=nodes[k];if(n[2]==='dots'){E('text',{x:n[0],y:n[1],'class':'n','font-size':fs*1.3}).textContent='⋮';continue;}E('circle',{cx:n[0],cy:n[1],r:r,fill:'#fff',stroke:'#111','stroke-width':2});const t=E('text',{x:n[0]-3,y:n[1]+fs*0.3,'class':'n','font-size':fs});t.textContent=n[2];if(n[3]){const s=E('tspan',{'font-size':fs*0.6,dy:fs*0.25},t);s.textContent=n[3];}}}
function full(us,bs,is){const e=[];us.forEach(u=>bs.forEach(b=>e.push([u,b])));bs.forEach(b=>is.forEach(i=>e.push([b,i])));return e;}
net({u1:[1295,511,'u','1'],u2:[1295,587,'u','2'],b1:[1415,484,'b','1'],b2:[1415,539,'b','2'],bd:[1415,578,'dots'],b32:[1415,612,'b','32'],i1:[1534,501,'i','1'],i2:[1540,592,'i','2']},full(['u1','u2'],['b1','b2','b32'],['i1','i2']),17,22);
net({u1:[1305,1082,'u','1'],u2:[1305,1150,'u','2'],b1:[1396,1068,'b','1'],b2:[1396,1103,'b','2'],bd:[1396,1142,'dots'],b32:[1396,1164,'b','32'],i1:[1489,1073,'i','1'],i2:[1489,1148,'i','2']},full(['u1','u2'],['b1','b2','b32'],['i1','i2']),14,18);
net({u3:[248,2085,'u','3'],u2:[248,2163,'u','2'],u1:[248,2239,'u','1'],i4:[443,2073,'i','4'],i3:[443,2131,'i','3'],i2:[443,2186,'i','2'],i1:[443,2241,'i','1']},[['u3','i4'],['u3','i3'],['u3','i1'],['u2','i4'],['u2','i2'],['u2','i1'],['u1','i3'],['u1','i2'],['u1','i1']],21,24);
net({u3:[693,2089,'u','3'],u2:[693,2165,'u','2'],u1:[693,2245,'u','1'],b1:[815,2062,'b','1'],b2:[815,2124,'b','2'],b3:[815,2186,'b','3'],bd:[815,2245,'dots'],b32:[815,2291,'b','32'],i4:[930,2087,'i','4'],i3:[930,2142,'i','3'],i2:[930,2200,'i','2'],i1:[930,2259,'i','1']},full(['u3','u2','u1'],['b1','b2','b3','b32'],['i4','i3','i2','i1']),21,24);
E('line',{x1:524,y1:2197,x2:618,y2:2197,stroke:'#111','stroke-width':4});E('polygon',{points:'632,2197 612,2186 612,2208',fill:'#111'});
function barrow(x1,x2,y,h,dir){const hh=h/2,head=h*0.6;let p;if(dir>0)p=[[x1,y-hh*0.55],[x2-head*0.6,y-hh*0.55],[x2-head*0.6,y-hh],[x2,y],[x2-head*0.6,y+hh],[x2-head*0.6,y+hh*0.55],[x1,y+hh*0.55]];else p=[[x2,y-hh*0.55],[x1+head*0.6,y-hh*0.55],[x1+head*0.6,y-hh],[x1,y],[x1+head*0.6,y+hh],[x1+head*0.6,y+hh*0.55],[x2,y+hh*0.55]];E('polygon',{points:p.map(q=>q.join(',')).join(' '),fill:'#555',stroke:'#333','stroke-width':1.5});}
barrow(1571,1625,547,48,-1);barrow(2009,2061,547,48,1);barrow(1529,1563,1125,36,1);barrow(1819,1852,1086,38,1);
function mat(x,y,hl){const cw=17.4,ch=17.4;for(let r=0;r<5;r++)for(let c=0;c<5;c++){let f='#fff';if(hl==='row'&&r===2)f='#8fb0b5';if(hl==='col'&&c===1)f='#b8e6a0';if(hl==='cell'&&r===2&&c===1)f='#5a8ad0';E('rect',{x:x+c*cw,y:y+r*ch,width:cw,height:ch,fill:f,stroke:'#111','stroke-width':2});}
 E('path',{d:`M${x},${y-6} v-12 h${cw*5} v12 M${x+cw*2.5},${y-18} v-10`,fill:'none',stroke:'#111','stroke-width':1.5});}
mat(1636,511,'row');mat(1773,511,'col');mat(1909,511,'cell');
function ch(pts,col){let d='M'+pts.map(p=>p.join(',')).join(' L');E('path',{d:d,fill:'none',stroke:col,'stroke-width':2.5});}
ch([[1586,1090],[1633,1045],[1744,1045],[1793,1090]],'#4a86c8');ch([[1586,1090],[1793,1090]],'#6ab23a');
ch([[1586,1090],[1603,1145],[1773,1145],[1793,1090]],'#f0a820');ch([[1586,1090],[1588,1181],[1786,1181],[1793,1090]],'#c8307a');
[[1633,1045,'#4a86c8'],[1689,1045,'#4a86c8'],[1744,1045,'#4a86c8'],[1689,1090,'#6ab23a'],[1603,1145,'#f0a820'],[1646,1145,'#f0a820'],[1689,1145,'#f0a820'],[1730,1145,'#f0a820'],[1773,1145,'#f0a820'],[1598,1181,'#c8307a'],[1641,1181,'#c8307a'],[1689,1181,'#c8307a'],[1733,1181,'#c8307a'],[1776,1181,'#c8307a']].forEach(n=>E('circle',{cx:n[0],cy:n[1],r:13,fill:'#fff',stroke:n[2],'stroke-width':2}));
[[1586,1090,'u'],[1793,1090,'i']].forEach(n=>{E('circle',{cx:n[0],cy:n[1],r:14,fill:'#fff',stroke:'#111','stroke-width':2});E('text',{x:n[0],y:n[1]+6,'class':'n','font-size':18,'font-weight':'bold'}).textContent=n[2];});
E('path',{d:'M1915,1112 V1130 H2150 V1150',fill:'none',stroke:'#d22','stroke-width':2.5});E('polygon',{points:'2150,1158 2144,1146 2156,1146',fill:'#d22'});
// logo: C-shaped ring of blobs
for(let i=0;i<110;i++){const t=i/110;const th=(-25-t*255)*Math.PI/180;const rr=88+rnd()*40;const x=3122+rr*Math.cos(th),y=188+rr*Math.sin(th)*1.0;
 const c1=[86,62,140],c2=[140,110,170];const c=c1.map((v,j)=>Math.round(v+(c2[j]-v)*t));E('ellipse',{cx:x,cy:y,rx:4+rnd()*5,ry:5+rnd()*6,fill:`rgb(${c})`});}
</script>
</body></html>
